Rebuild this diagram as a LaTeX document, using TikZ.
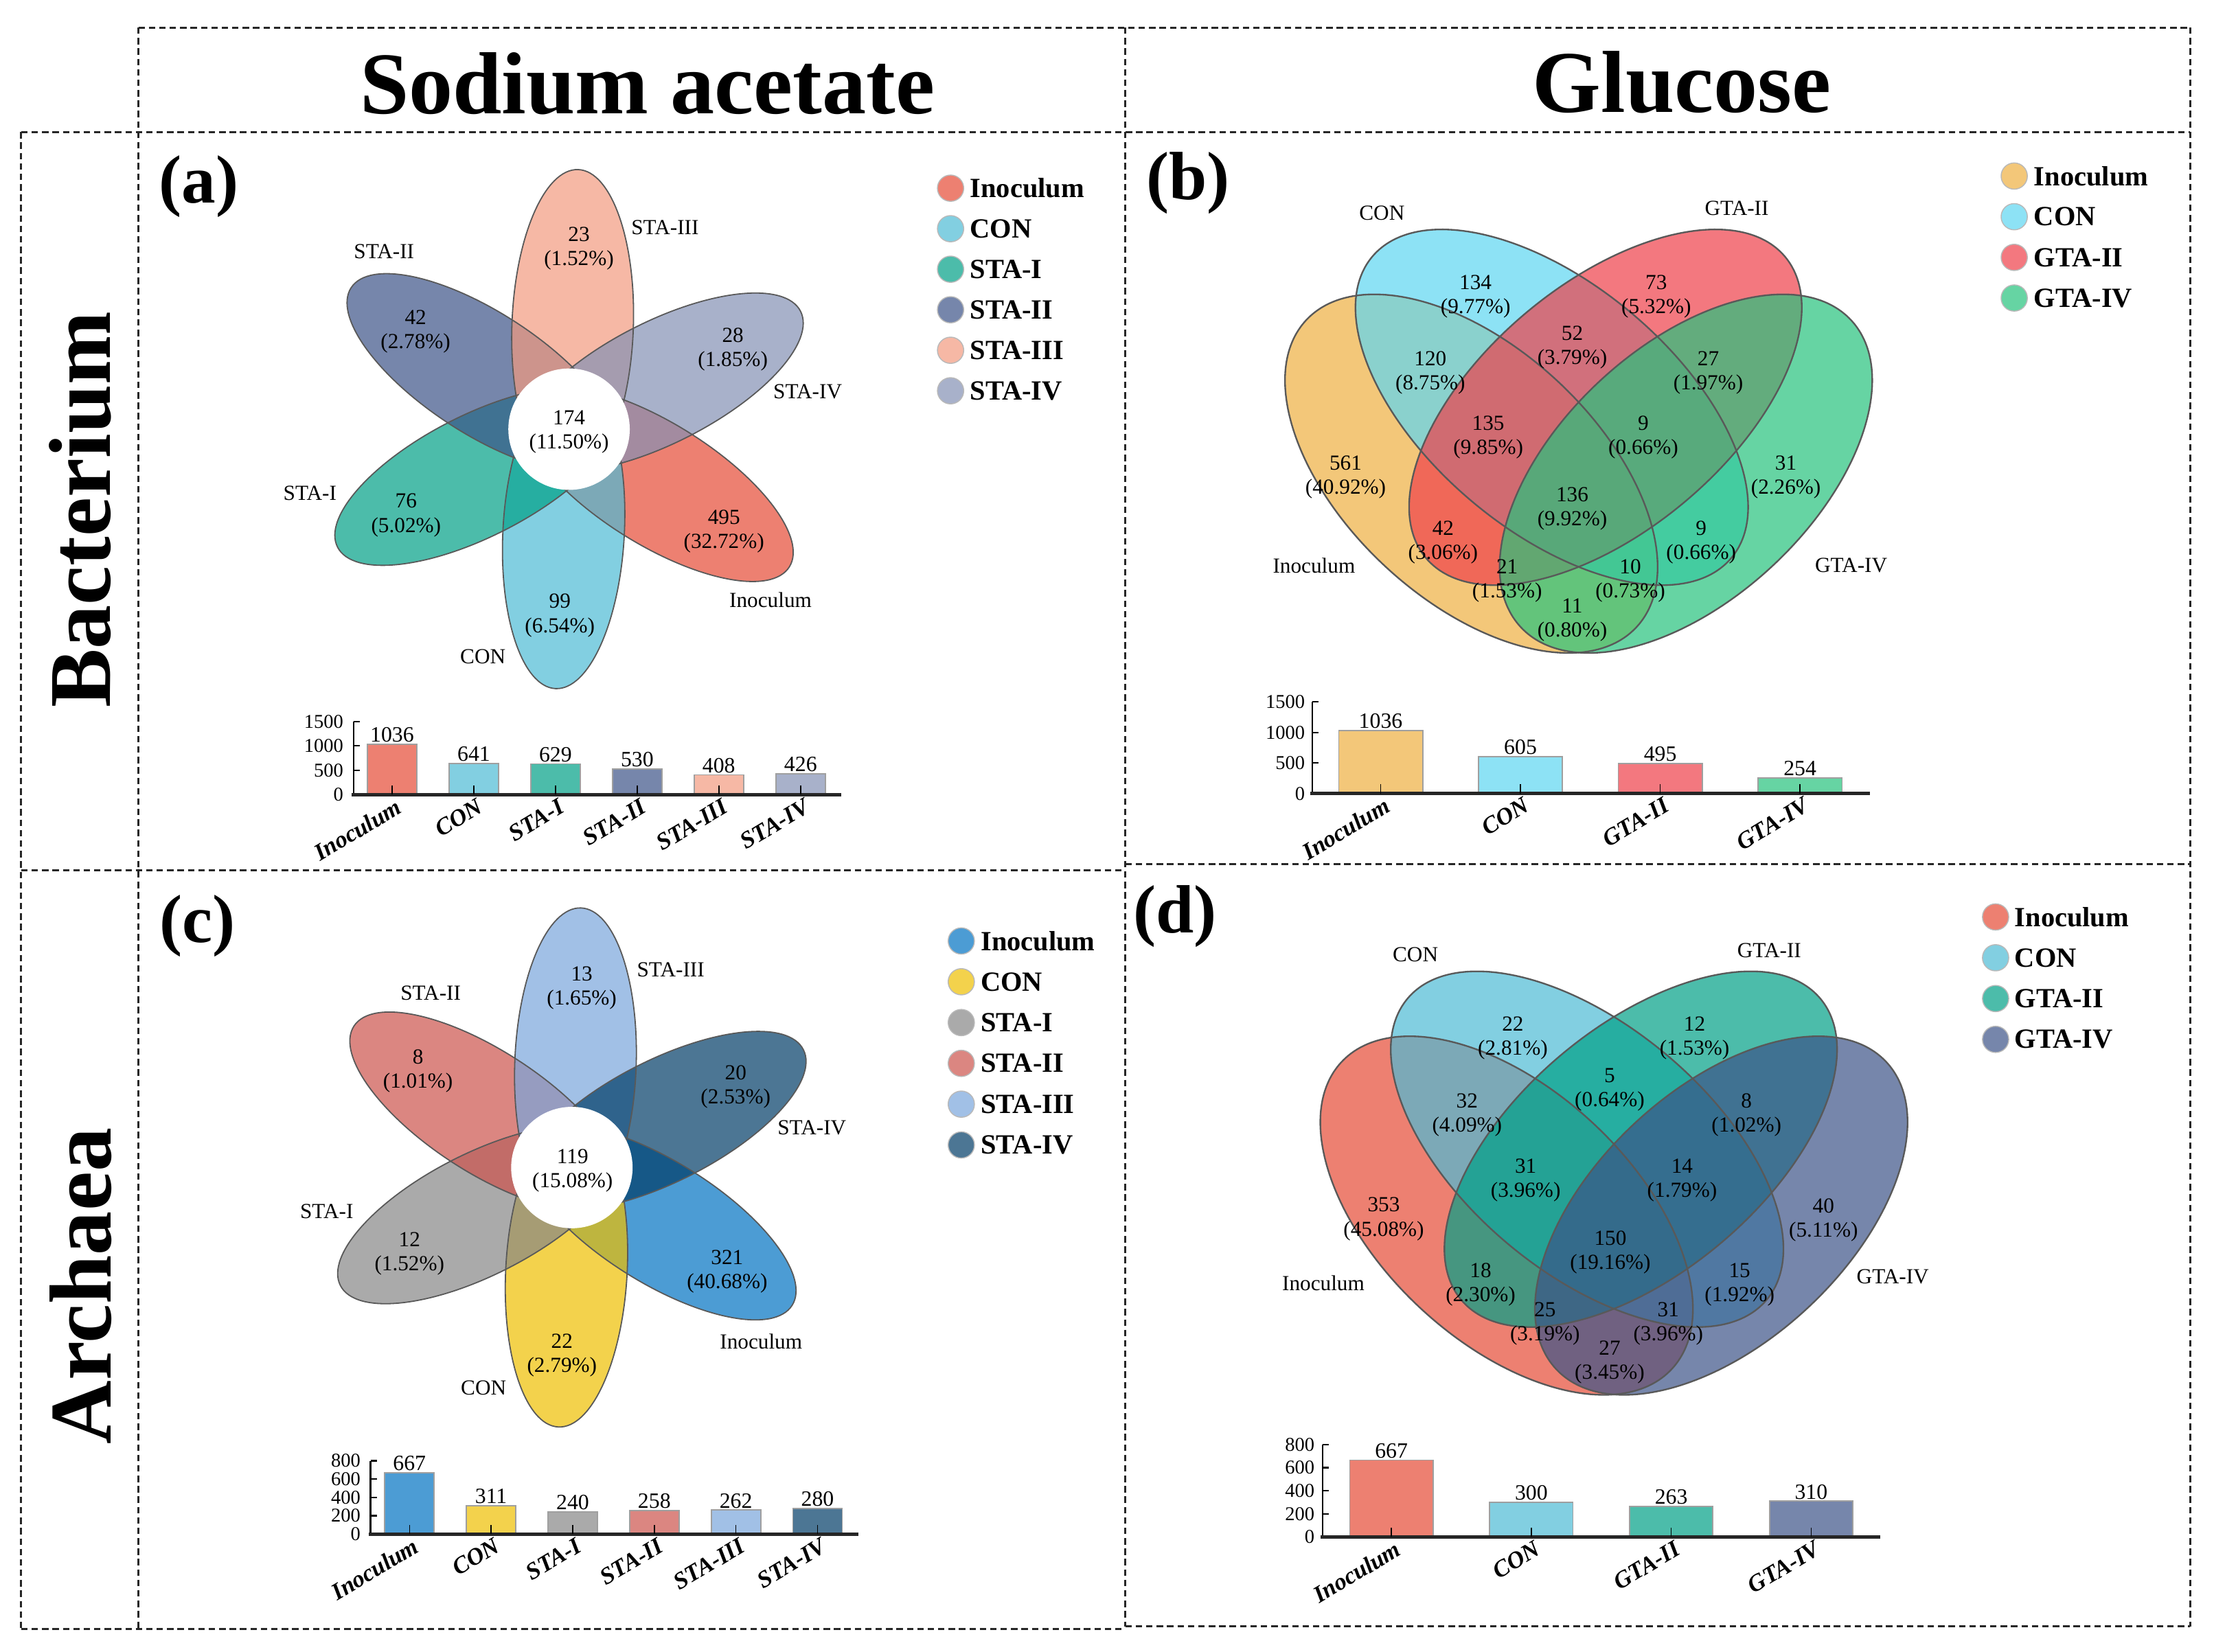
\documentclass[tikz,border=0pt]{standalone}
\usepackage{fontspec}
\setmainfont{Liberation Serif}

%colours of the sets
\definecolor{npgred}{HTML}{E64B35}
\definecolor{npgcyan}{HTML}{4DBBD5}
\definecolor{npgteal}{HTML}{00A087}
\definecolor{npgblue}{HTML}{3C5488}
\definecolor{npgsalmon}{HTML}{F39B7F}
\definecolor{npggrey}{HTML}{8491B4}
\definecolor{jcoblue}{HTML}{0073C2}
\definecolor{jcoyellow}{HTML}{EFC000}
\definecolor{jcogrey}{HTML}{868686}
\definecolor{jcored}{HTML}{CD534C}
\definecolor{jcosky}{HTML}{7AA6DC}
\definecolor{jconavy}{HTML}{003C67}
\definecolor{gluorange}{HTML}{EEB041}
\definecolor{glucyan}{HTML}{5ED6F2}
\definecolor{glured}{HTML}{EF404A}
\definecolor{glugreen}{HTML}{26C37D}

\begin{document}
\begin{tikzpicture}[x=0.02cm,y=-0.02cm,
  boxline/.style={black!85,line width=0.85pt,dash pattern=on 2.6pt off 1.6pt},
  petal/.style={fill opacity=0.7},
  rim/.style={draw=black!65,line width=0.5pt},
  heading/.style={font=\fontsize{35.5}{40}\selectfont\bfseries,inner sep=0pt},
  tag/.style={font=\fontsize{27.5}{30}\selectfont\bfseries,inner sep=0pt},
  setname/.style={font=\fontsize{8.65}{9.7}\selectfont,inner sep=0pt},
  share/.style={font=\fontsize{8.65}{9.7}\selectfont,align=center,inner sep=0pt},
  legdot/.style={draw=gray!55,line width=0.4pt,fill opacity=0.7},
  legtext/.style={font=\fontsize{11.2}{13}\selectfont\bfseries,anchor=west,inner sep=0pt},
  column/.style={draw=gray!75,line width=0.5pt,fill opacity=0.7},
  colval/.style={font=\fontsize{8.8}{10}\selectfont,anchor=south,inner sep=0.6pt},
  axlab/.style={font=\fontsize{7.9}{9}\selectfont,anchor=east,inner sep=0pt},
  colname/.style={font=\fontsize{9.6}{11}\selectfont\bfseries\itshape,anchor=north east,rotate=31,inner sep=0pt},
  yline/.style={black,line width=0.6pt},
  xline/.style={black!85,line width=1.4pt}]

 \useasboundingbox (0,0) rectangle (1568,1170);
 \fill[white] (0,0) rectangle (1568,1170);

 %frame of the figure
 \draw[boxline] (98,19.5) -- (1551,19.5);
 \draw[boxline] (15,93.5) -- (1551,93.5);
 \draw[boxline] (15,616.5) -- (797,616.5);
 \draw[boxline] (797,612) -- (1551,612);
 \draw[boxline] (15,1154) -- (797,1154);
 \draw[boxline] (797,1152) -- (1551,1152);
 \draw[boxline] (15,93.5) -- (15,1154);
 \draw[boxline] (98,19.5) -- (98,1154);
 \draw[boxline] (797,19.5) -- (797,1152);
 \draw[boxline] (1551,19.5) -- (1551,1152);

 %headings
 \node[heading,anchor=base] (sodium) at (458.5,80.3) {Sodium acetate};
 \node[heading,anchor=base] (glucose) at (1191,79.5) {Glucose};
 \node[heading,rotate=90] (bacterium) at (57,361) {Bacterium};
 \node[heading,rotate=90] (archaea) at (57,911) {Archaea};

 %panel tags
 \node[tag] (tagA) at (140.7,132) {(a)};
 \node[tag] (tagB) at (841.4,129.7) {(b)};
 \node[tag] (tagC) at (140,656) {(c)};
 \node[tag] (tagD) at (832,649) {(d)};

 %%%%%%%%%% panel (a) %%%%%%%%%%
 %petals
 \begin{scope}[shift={(403,304)}]
  \fill[petal,npgred,rotate=328] (73,0) ellipse (111 and 43);
  \fill[petal,npgcyan,rotate=267] (73,0) ellipse (111 and 43);
  \fill[petal,npgteal,rotate=207] (73,0) ellipse (111 and 43);
  \fill[petal,npgblue,rotate=147] (73,0) ellipse (111 and 43);
  \fill[petal,npgsalmon,rotate=88] (73,0) ellipse (111 and 43);
  \fill[petal,npggrey,rotate=27] (73,0) ellipse (111 and 43);
  \draw[rim,rotate=328] (73,0) ellipse (111 and 43);
  \draw[rim,rotate=267] (73,0) ellipse (111 and 43);
  \draw[rim,rotate=207] (73,0) ellipse (111 and 43);
  \draw[rim,rotate=147] (73,0) ellipse (111 and 43);
  \draw[rim,rotate=88] (73,0) ellipse (111 and 43);
  \draw[rim,rotate=27] (73,0) ellipse (111 and 43);
  \fill[white] (0,0) circle (43);
 \end{scope}

 %set names
 \node[setname] (aIIIname) at (471,161) {STA-III};
 \node[setname] (aIIname) at (272,178) {STA-II};
 \node[setname] (aIVname) at (572,277.5) {STA-IV};
 \node[setname] (aIname) at (219.5,349.5) {STA-I};
 \node[setname] (aInocname) at (545.7,425) {Inoculum};
 \node[setname] (aCONname) at (342,465) {CON};

 %counts
 \node[share] (aIII) at (410,176) {23\\(1.52\%)};
 \node[share] (aII) at (294.3,235) {42\\(2.78\%)};
 \node[share] (aIV) at (519,247.3) {28\\(1.85\%)};
 \node[share] (acore) at (403,306) {174\\(11.50\%)};
 \node[share] (aI) at (287.6,365) {76\\(5.02\%)};
 \node[share] (aInoc) at (512.7,376.5) {495\\(32.72\%)};
 \node[share] (aCON) at (396.5,436) {99\\(6.54\%)};

 %legend
 \path[legdot,fill=npgred] (673.2,133.3) circle (9.3);
 \path[legdot,fill=npgcyan] (673.2,162) circle (9.3);
 \path[legdot,fill=npgteal] (673.2,190.7) circle (9.3);
 \path[legdot,fill=npgblue] (673.2,219.4) circle (9.3);
 \path[legdot,fill=npgsalmon] (673.2,248.1) circle (9.3);
 \path[legdot,fill=npggrey] (673.2,276.8) circle (9.3);
 \node[legtext] (aleg1) at (686.7,133.3) {Inoculum};
 \node[legtext] (aleg2) at (686.7,162) {CON};
 \node[legtext] (aleg3) at (686.7,190.7) {STA-I};
 \node[legtext] (aleg4) at (686.7,219.4) {STA-II};
 \node[legtext] (aleg5) at (686.7,248.1) {STA-III};
 \node[legtext] (aleg6) at (686.7,276.8) {STA-IV};

 %bar chart
 \path[column,fill=npgred] (260.2,562.9) rectangle (295.2,527.1);
 \path[column,fill=npgcyan] (318.1,562.9) rectangle (353.1,540.7);
 \path[column,fill=npgteal] (375.9,562.9) rectangle (410.9,541.1);
 \path[column,fill=npgblue] (433.8,562.9) rectangle (468.8,544.6);
 \path[column,fill=npgsalmon] (491.6,562.9) rectangle (526.6,548.8);
 \path[column,fill=npggrey] (549.5,562.9) rectangle (584.5,548.2);
 \draw[yline] (250.3,511) -- (250.3,562.9);
 \draw[yline] (250.3,511) -- (254.8,511);
 \draw[yline] (250.3,528.3) -- (254.8,528.3);
 \draw[yline] (250.3,545.6) -- (254.8,545.6);
 \draw[xline] (249,562.9) -- (595.8,562.9);
 \draw[thin] (277.7,562.9) -- (277.7,556.4);
 \draw[thin] (335.6,562.9) -- (335.6,556.4);
 \draw[thin] (393.4,562.9) -- (393.4,556.4);
 \draw[thin] (451.3,562.9) -- (451.3,556.4);
 \draw[thin] (509.1,562.9) -- (509.1,556.4);
 \draw[thin] (567,562.9) -- (567,556.4);
 \node[axlab] (ay0) at (243.5,562.9) {0};
 \node[axlab] (ay1) at (243.5,545.6) {500};
 \node[axlab] (ay2) at (243.5,528.3) {1000};
 \node[axlab] (ay3) at (243.5,511) {1500};
 \node[colval] (av1) at (277.7,527.1) {1036};
 \node[colval] (av2) at (335.6,540.7) {641};
 \node[colval] (av3) at (393.4,541.1) {629};
 \node[colval] (av4) at (451.3,544.6) {530};
 \node[colval] (av5) at (509.1,548.8) {408};
 \node[colval] (av6) at (567,548.2) {426};
 \node[colname] (ac1) at (279.5,564.5) {Inoculum};
 \node[colname] (ac2) at (337.4,564.5) {CON};
 \node[colname] (ac3) at (395.2,564.5) {STA-I};
 \node[colname] (ac4) at (453.1,564.5) {STA-II};
 \node[colname] (ac5) at (510.9,564.5) {STA-III};
 \node[colname] (ac6) at (568.8,564.5) {STA-IV};

 %%%%%%%%%% panel (b) %%%%%%%%%%
 %ellipses
 \fill[petal,gluorange,rotate around={-42.9:(1042,335.5)}] (1042,335.5) ellipse (159.7 and 89.6);
 \fill[petal,glucyan,rotate around={-40:(1099,288.5)}] (1099,288.5) ellipse (166 and 87.4);
 \fill[petal,glured,rotate around={40:(1137,288.5)}] (1137,288.5) ellipse (166 and 87.4);
 \fill[petal,glugreen,rotate around={42.9:(1194,335.5)}] (1194,335.5) ellipse (159.7 and 89.6);
 \draw[rim,line width=0.65pt,rotate around={-42.9:(1042,335.5)}] (1042,335.5) ellipse (159.7 and 89.6);
 \draw[rim,line width=0.65pt,rotate around={-40:(1099,288.5)}] (1099,288.5) ellipse (166 and 87.4);
 \draw[rim,line width=0.65pt,rotate around={40:(1137,288.5)}] (1137,288.5) ellipse (166 and 87.4);
 \draw[rim,line width=0.65pt,rotate around={42.9:(1194,335.5)}] (1194,335.5) ellipse (159.7 and 89.6);

 %set names
 \node[setname] (bCONname) at (978.7,150.8) {CON};
 \node[setname] (bIIname) at (1230,147.6) {GTA-II};
 \node[setname] (bInocname) at (930.6,400.6) {Inoculum};
 \node[setname] (bIVname) at (1311,400.6) {GTA-IV};

 %counts
 \node[share] (b1) at (1045,210) {134\\(9.77\%)};
 \node[share] (b2) at (1173,210) {73\\(5.32\%)};
 \node[share] (b3) at (1113.5,246) {52\\(3.79\%)};
 \node[share] (b4) at (1013,264) {120\\(8.75\%)};
 \node[share] (b5) at (1209.8,264) {27\\(1.97\%)};
 \node[share] (b6) at (1054,310) {135\\(9.85\%)};
 \node[share] (b7) at (1163.8,310) {9\\(0.66\%)};
 \node[share] (b8) at (953,338) {561\\(40.92\%)};
 \node[share] (b9) at (1264.8,338) {31\\(2.26\%)};
 \node[share] (b10) at (1113.5,360.5) {136\\(9.92\%)};
 \node[share] (b11) at (1022,384) {42\\(3.06\%)};
 \node[share] (b12) at (1204.8,384) {9\\(0.66\%)};
 \node[share] (b13) at (1067.4,411.5) {21\\(1.53\%)};
 \node[share] (b14) at (1154.6,411.5) {10\\(0.73\%)};
 \node[share] (b15) at (1113.5,439) {11\\(0.80\%)};

 %legend
 \path[legdot,fill=gluorange] (1426.5,124.7) circle (9.3);
 \path[legdot,fill=glucyan] (1426.5,153.5) circle (9.3);
 \path[legdot,fill=glured] (1426.5,182.3) circle (9.3);
 \path[legdot,fill=glugreen] (1426.5,211.1) circle (9.3);
 \node[legtext] (bleg1) at (1440.2,124.7) {Inoculum};
 \node[legtext] (bleg2) at (1440.2,153.5) {CON};
 \node[legtext] (bleg3) at (1440.2,182.3) {GTA-II};
 \node[legtext] (bleg4) at (1440.2,211.1) {GTA-IV};

 %bar chart
 \path[column,fill=gluorange] (948.1,562.1) rectangle (1007.6,517.3);
 \path[column,fill=glucyan] (1047.1,562.1) rectangle (1106.6,535.9);
 \path[column,fill=glured] (1146.1,562.1) rectangle (1205.6,540.7);
 \path[column,fill=glugreen] (1245.1,562.1) rectangle (1304.6,551.1);
 \draw[yline] (929.4,497.2) -- (929.4,562.1);
 \draw[yline] (929.4,497.2) -- (933.9,497.2);
 \draw[yline] (929.4,518.8) -- (933.9,518.8);
 \draw[yline] (929.4,540.5) -- (933.9,540.5);
 \draw[xline] (928,562.1) -- (1324.4,562.1);
 \draw[thin] (977.8,562.1) -- (977.8,555.6);
 \draw[thin] (1076.8,562.1) -- (1076.8,555.6);
 \draw[thin] (1175.8,562.1) -- (1175.8,555.6);
 \draw[thin] (1274.8,562.1) -- (1274.8,555.6);
 \node[axlab] (by0) at (924.5,562.1) {0};
 \node[axlab] (by1) at (924.5,540.5) {500};
 \node[axlab] (by2) at (924.5,518.8) {1000};
 \node[axlab] (by3) at (924.5,497.2) {1500};
 \node[colval] (bv1) at (977.8,517.3) {1036};
 \node[colval] (bv2) at (1076.8,535.9) {605};
 \node[colval] (bv3) at (1175.8,540.7) {495};
 \node[colval] (bv4) at (1274.8,551.1) {254};
 \node[colname] (bc1) at (979.6,563.7) {Inoculum};
 \node[colname] (bc2) at (1078.6,563.7) {CON};
 \node[colname] (bc3) at (1177.6,563.7) {GTA-II};
 \node[colname] (bc4) at (1276.6,563.7) {GTA-IV};

 %%%%%%%%%% panel (c) %%%%%%%%%%
 %petals
 \begin{scope}[shift={(405,827)}]
  \fill[petal,jcoblue,rotate=328] (73,0) ellipse (111 and 43);
  \fill[petal,jcoyellow,rotate=267] (73,0) ellipse (111 and 43);
  \fill[petal,jcogrey,rotate=207] (73,0) ellipse (111 and 43);
  \fill[petal,jcored,rotate=147] (73,0) ellipse (111 and 43);
  \fill[petal,jcosky,rotate=88] (73,0) ellipse (111 and 43);
  \fill[petal,jconavy,rotate=27] (73,0) ellipse (111 and 43);
  \draw[rim,rotate=328] (73,0) ellipse (111 and 43);
  \draw[rim,rotate=267] (73,0) ellipse (111 and 43);
  \draw[rim,rotate=207] (73,0) ellipse (111 and 43);
  \draw[rim,rotate=147] (73,0) ellipse (111 and 43);
  \draw[rim,rotate=88] (73,0) ellipse (111 and 43);
  \draw[rim,rotate=27] (73,0) ellipse (111 and 43);
  \fill[white] (0,0) circle (43);
 \end{scope}

 %set names
 \node[setname] (cIIIname) at (475,687) {STA-III};
 \node[setname] (cIIname) at (305,703.4) {STA-II};
 \node[setname] (cIVname) at (575,799) {STA-IV};
 \node[setname] (cIname) at (231.4,858) {STA-I};
 \node[setname] (cInocname) at (539,950.4) {Inoculum};
 \node[setname] (cCONname) at (342.5,983) {CON};

 %counts
 \node[share] (cIII) at (412,700) {13\\(1.65\%)};
 \node[share] (cII) at (296,758.5) {8\\(1.01\%)};
 \node[share] (cIV) at (521,770) {20\\(2.53\%)};
 \node[share] (ccore) at (405.5,829) {119\\(15.08\%)};
 \node[share] (cI) at (290,888) {12\\(1.52\%)};
 \node[share] (cInoc) at (515,900.5) {321\\(40.68\%)};
 \node[share] (cCON) at (398,960) {22\\(2.79\%)};

 %legend
 \path[legdot,fill=jcoblue] (680.8,666.5) circle (9.3);
 \path[legdot,fill=jcoyellow] (680.8,695.4) circle (9.3);
 \path[legdot,fill=jcogrey] (680.8,724.3) circle (9.3);
 \path[legdot,fill=jcored] (680.8,753.2) circle (9.3);
 \path[legdot,fill=jcosky] (680.8,782.1) circle (9.3);
 \path[legdot,fill=jconavy] (680.8,811) circle (9.3);
 \node[legtext] (cleg1) at (694.3,666.5) {Inoculum};
 \node[legtext] (cleg2) at (694.3,695.4) {CON};
 \node[legtext] (cleg3) at (694.3,724.3) {STA-I};
 \node[legtext] (cleg4) at (694.3,753.2) {STA-II};
 \node[legtext] (cleg5) at (694.3,782.1) {STA-III};
 \node[legtext] (cleg6) at (694.3,811) {STA-IV};

 %bar chart
 \path[column,fill=jcoblue] (272.5,1086.6) rectangle (307.5,1043.3);
 \path[column,fill=jcoyellow] (330.3,1086.6) rectangle (365.3,1066.4);
 \path[column,fill=jcogrey] (388.1,1086.6) rectangle (423.1,1071);
 \path[column,fill=jcored] (445.9,1086.6) rectangle (480.9,1069.9);
 \path[column,fill=jcosky] (503.7,1086.6) rectangle (538.7,1069.6);
 \path[column,fill=jconavy] (561.5,1086.6) rectangle (596.5,1068.4);
 \draw[yline] (262.4,1034.7) -- (262.4,1086.6);
 \draw[yline] (262.4,1034.7) -- (266.9,1034.7);
 \draw[yline] (262.4,1047.7) -- (266.9,1047.7);
 \draw[yline] (262.4,1060.6) -- (266.9,1060.6);
 \draw[yline] (262.4,1073.6) -- (266.9,1073.6);
 \draw[xline] (261,1086.6) -- (608,1086.6);
 \draw[thin] (290,1086.6) -- (290,1080.1);
 \draw[thin] (347.8,1086.6) -- (347.8,1080.1);
 \draw[thin] (405.6,1086.6) -- (405.6,1080.1);
 \draw[thin] (463.4,1086.6) -- (463.4,1080.1);
 \draw[thin] (521.2,1086.6) -- (521.2,1080.1);
 \draw[thin] (579,1086.6) -- (579,1080.1);
 \node[axlab] (cy0) at (255.6,1086.6) {0};
 \node[axlab] (cy1) at (255.6,1073.6) {200};
 \node[axlab] (cy2) at (255.6,1060.6) {400};
 \node[axlab] (cy3) at (255.6,1047.7) {600};
 \node[axlab] (cy4) at (255.6,1034.7) {800};
 \node[colval] (cv1) at (290,1043.3) {667};
 \node[colval] (cv2) at (347.8,1066.4) {311};
 \node[colval] (cv3) at (405.6,1071) {240};
 \node[colval] (cv4) at (463.4,1069.9) {258};
 \node[colval] (cv5) at (521.2,1069.6) {262};
 \node[colval] (cv6) at (579,1068.4) {280};
 \node[colname] (cc1) at (291.8,1088.2) {Inoculum};
 \node[colname] (cc2) at (349.6,1088.2) {CON};
 \node[colname] (cc3) at (407.4,1088.2) {STA-I};
 \node[colname] (cc4) at (465.2,1088.2) {STA-II};
 \node[colname] (cc5) at (523,1088.2) {STA-III};
 \node[colname] (cc6) at (580.8,1088.2) {STA-IV};

 %%%%%%%%%% panel (d) %%%%%%%%%%
 %ellipses
 \fill[petal,npgred,rotate around={-42.9:(1067,861)}] (1067,861) ellipse (159.7 and 89.6);
 \fill[petal,npgcyan,rotate around={-40:(1124,814)}] (1124,814) ellipse (166 and 87.4);
 \fill[petal,npgteal,rotate around={40:(1162,814)}] (1162,814) ellipse (166 and 87.4);
 \fill[petal,npgblue,rotate around={42.9:(1219,861)}] (1219,861) ellipse (159.7 and 89.6);
 \draw[rim,line width=0.65pt,rotate around={-42.9:(1067,861)}] (1067,861) ellipse (159.7 and 89.6);
 \draw[rim,line width=0.65pt,rotate around={-40:(1124,814)}] (1124,814) ellipse (166 and 87.4);
 \draw[rim,line width=0.65pt,rotate around={40:(1162,814)}] (1162,814) ellipse (166 and 87.4);
 \draw[rim,line width=0.65pt,rotate around={42.9:(1219,861)}] (1219,861) ellipse (159.7 and 89.6);

 %set names
 \node[setname] (dCONname) at (1002.4,676) {CON};
 \node[setname] (dIIname) at (1253,673.3) {GTA-II};
 \node[setname] (dInocname) at (937.2,909) {Inoculum};
 \node[setname] (dIVname) at (1340.5,904.3) {GTA-IV};

 %counts
 \node[share] (d1) at (1071.4,735.5) {22\\(2.81\%)};
 \node[share] (d2) at (1200.1,735.5) {12\\(1.53\%)};
 \node[share] (d3) at (1140,772) {5\\(0.64\%)};
 \node[share] (d4) at (1039,790) {32\\(4.09\%)};
 \node[share] (d5) at (1236.9,790) {8\\(1.02\%)};
 \node[share] (d6) at (1080.5,836) {31\\(3.96\%)};
 \node[share] (d7) at (1191.3,836) {14\\(1.79\%)};
 \node[share] (d8) at (980,863.5) {353\\(45.08\%)};
 \node[share] (d9) at (1291.4,864) {40\\(5.11\%)};
 \node[share] (d10) at (1140.5,887) {150\\(19.16\%)};
 \node[share] (d11) at (1048.6,910) {18\\(2.30\%)};
 \node[share] (d12) at (1232,910) {15\\(1.92\%)};
 \node[share] (d13) at (1094.2,937.5) {25\\(3.19\%)};
 \node[share] (d14) at (1181.5,937.5) {31\\(3.96\%)};
 \node[share] (d15) at (1140,965) {27\\(3.45\%)};

 %legend
 \path[legdot,fill=npgred] (1413.3,649.5) circle (9.3);
 \path[legdot,fill=npgcyan] (1413.3,678.4) circle (9.3);
 \path[legdot,fill=npgteal] (1413.3,707.3) circle (9.3);
 \path[legdot,fill=npgblue] (1413.3,736.2) circle (9.3);
 \node[legtext] (dleg1) at (1426.5,649.5) {Inoculum};
 \node[legtext] (dleg2) at (1426.5,678.4) {CON};
 \node[legtext] (dleg3) at (1426.5,707.3) {GTA-II};
 \node[legtext] (dleg4) at (1426.5,736.2) {GTA-IV};

 %bar chart
 \path[column,fill=npgred] (955.9,1088.6) rectangle (1014.9,1034.2);
 \path[column,fill=npgcyan] (1055,1088.6) rectangle (1114,1064.1);
 \path[column,fill=npgteal] (1154.1,1088.6) rectangle (1213.1,1067.1);
 \path[column,fill=npgblue] (1253.2,1088.6) rectangle (1312.2,1063.3);
 \draw[yline] (936.7,1023.3) -- (936.7,1088.6);
 \draw[yline] (936.7,1023.3) -- (941.2,1023.3);
 \draw[yline] (936.7,1039.6) -- (941.2,1039.6);
 \draw[yline] (936.7,1055.9) -- (941.2,1055.9);
 \draw[yline] (936.7,1072.3) -- (941.2,1072.3);
 \draw[xline] (935.3,1088.6) -- (1331.7,1088.6);
 \draw[thin] (985.4,1088.6) -- (985.4,1082.1);
 \draw[thin] (1084.5,1088.6) -- (1084.5,1082.1);
 \draw[thin] (1183.6,1088.6) -- (1183.6,1082.1);
 \draw[thin] (1282.7,1088.6) -- (1282.7,1082.1);
 \node[axlab] (dy0) at (931.3,1088.6) {0};
 \node[axlab] (dy1) at (931.3,1072.3) {200};
 \node[axlab] (dy2) at (931.3,1055.9) {400};
 \node[axlab] (dy3) at (931.3,1039.6) {600};
 \node[axlab] (dy4) at (931.3,1023.3) {800};
 \node[colval] (dv1) at (985.4,1034.2) {667};
 \node[colval] (dv2) at (1084.5,1064.1) {300};
 \node[colval] (dv3) at (1183.6,1067.1) {263};
 \node[colval] (dv4) at (1282.7,1063.3) {310};
 \node[colname] (dc1) at (987.2,1090.2) {Inoculum};
 \node[colname] (dc2) at (1086.3,1090.2) {CON};
 \node[colname] (dc3) at (1185.4,1090.2) {GTA-II};
 \node[colname] (dc4) at (1284.5,1090.2) {GTA-IV};
\end{tikzpicture}
\end{document}
